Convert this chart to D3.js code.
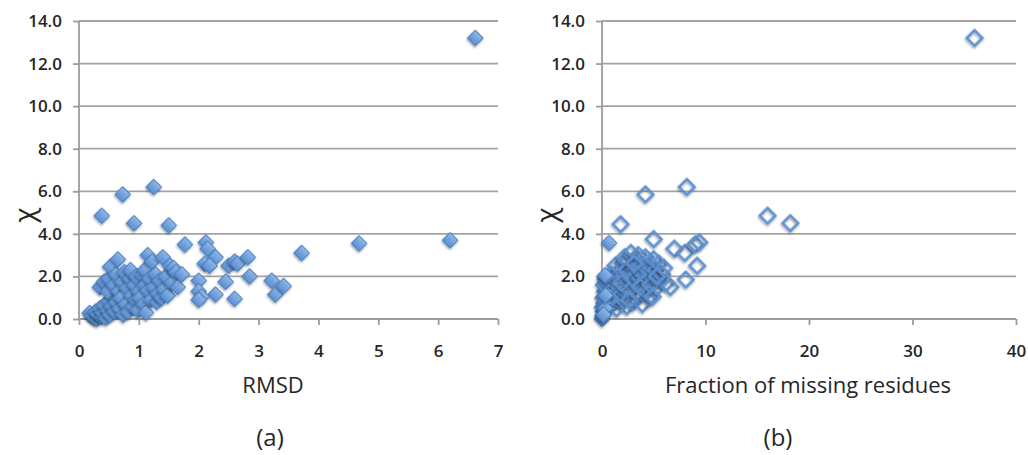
<!DOCTYPE html>
<html>
<head>
<meta charset="utf-8">
<script src="https://cdn.jsdelivr.net/npm/d3@7"></script>
<style>
  body { margin: 0; background: #fff; }
  svg text { font-family: "Open Sans", "Liberation Sans", sans-serif; fill: #262626; }
</style>
</head>
<body>
<div id="chart"></div>
<script>
// chi vs RMSD (panel a)
var rmsdPoints = [
  [0.18,0.28],[0.22,0.15],[0.26,0.05],[0.30,0.0],[0.28,0.35],[0.32,0.2],[0.35,0.5],[0.38,0.1],
  [0.40,0.3],[0.42,0.65],[0.45,0.05],[0.48,0.4],[0.50,0.85],[0.52,0.2],[0.55,0.6],[0.58,1.1],
  [0.60,0.35],[0.62,0.8],[0.35,1.5],[0.42,1.75],[0.48,1.3],[0.50,1.9],[0.52,2.45],[0.58,1.6],
  [0.62,2.1],[0.65,2.8],[0.66,1.3],[0.68,0.5],[0.70,1.0],[0.72,1.75],[0.74,0.2],[0.76,2.2],
  [0.78,0.7],[0.80,1.45],[0.82,0.35],[0.85,1.9],[0.86,2.3],[0.88,1.1],[0.90,0.6],[0.92,1.6],
  [0.95,0.9],[0.96,2.0],[0.98,0.4],[1.00,1.3],[1.02,1.0],[1.05,2.1],[1.08,0.7],[1.10,1.6],
  [1.10,2.3],[1.12,0.3],[1.15,3.0],[1.15,1.35],[1.18,1.9],[1.20,0.9],[1.22,2.7],[1.25,1.5],
  [1.28,2.1],[1.30,0.8],[1.32,1.2],[1.35,1.8],[1.38,1.0],[1.40,2.9],[1.42,1.4],[1.45,2.0],
  [1.48,1.1],[1.52,2.5],[1.55,1.7],[1.58,2.4],[1.62,2.2],[1.65,1.5],[1.72,2.1],
  [6.62,13.2],[6.20,3.7],[4.68,3.55],[3.72,3.1],[1.25,6.2],[0.73,5.85],[0.38,4.85],[0.92,4.5],
  [1.50,4.4],[1.77,3.5],[2.12,3.6],[2.15,3.3],[2.28,2.9],[2.10,2.6],[2.18,2.5],[2.50,2.5],
  [2.60,2.7],[2.65,2.6],[2.82,2.9],[2.85,2.0],[2.45,1.75],[2.60,0.95],[2.28,1.15],[2.00,1.8],
  [2.00,1.3],[2.05,1.05],[2.00,0.9],[3.22,1.8],[3.28,1.15],[3.42,1.55]
];

// chi vs fraction of missing residues (panel b)
var missingHollow = [
  [0.8,0.6],[1.0,1.2],[1.2,0.9],[1.5,1.6],[1.6,2.2],[1.8,0.8],[2.0,1.4],[2.0,2.6],[2.2,1.9],
  [2.4,0.6],[2.5,2.7],[2.6,1.2],[2.8,3.1],[2.8,2.0],[3.0,1.6],[3.0,0.8],[3.2,2.4],[3.3,2.8],
  [3.5,3.0],[3.5,1.1],[3.6,1.9],[3.8,2.5],[3.9,0.7],[4.0,1.5],[4.1,2.2],[4.2,2.9],[4.4,1.8],
  [4.5,1.0],[4.6,2.5],[4.8,2.0],[5.0,2.8],[5.1,1.4],[5.2,2.3],[5.4,1.8],[5.5,2.6],[5.8,2.1],
  [6.0,2.4],[6.2,1.7],[1.3,2.5],[2.2,2.9],[3.4,2.1],[4.3,1.3],[1.1,1.8],[0.9,2.1],[1.7,1.1],
  [2.9,1.9],[3.7,1.5],[4.7,1.6],[2.4,2.3],[1.9,1.7],[0.7,1.0],[1.4,0.5],[2.6,0.9],[3.1,2.6],
  [5.3,2.0],
  [36.0,13.2],[8.2,6.2],[4.2,5.85],[16.0,4.85],[18.2,4.5],[1.8,4.45],[5.0,3.75],[7.0,3.3],
  [8.0,3.1],[9.0,3.5],[9.4,3.6],[9.2,2.5],[8.1,1.85],[6.6,1.5],[4.9,1.05]
];
var missingFilled = [
  [0.0,0.0],[0.05,0.15],[0.1,0.35],[0.0,0.55],[0.15,0.75],[0.05,1.0],[0.2,1.3],[0.1,1.6],
  [0.25,1.85],[0.45,2.0],[0.3,0.5],[0.35,1.1],[0.68,3.57],[0.15,0.2],[0.3,2.05]
];

var yTicks = [0, 2, 4, 6, 8, 10, 12, 14];
var rmsdTicks = [0, 1, 2, 3, 4, 5, 6, 7];
var missingTicks = [0, 10, 20, 30, 40];

var width = 1028, height = 455;

var svg = d3.select("#chart")
  .append("svg")
  .attr("width", width)
  .attr("height", height);

var defs = svg.append("defs");
var grad = defs.append("linearGradient")
  .attr("id", "markerFill")
  .attr("x1", 0).attr("y1", 0).attr("x2", 0).attr("y2", 1);
grad.append("stop").attr("offset", "0%").attr("stop-color", "#8fb7e6");
grad.append("stop").attr("offset", "100%").attr("stop-color", "#5a8fd2");

var shadow = defs.append("filter")
  .attr("id", "shadow")
  .attr("x", "-50%").attr("y", "-50%").attr("width", "200%").attr("height", "200%");
shadow.append("feDropShadow")
  .attr("dx", 0.6).attr("dy", 1.4)
  .attr("stdDeviation", 0.9)
  .attr("flood-color", "#000")
  .attr("flood-opacity", 0.4);

var diamond = d3.symbol().type(d3.symbolSquare).size(122);

function drawPanel(opts) {
  var g = svg.append("g");

  var x = d3.scaleLinear().domain(opts.xDomain).range([opts.left, opts.right]);
  var y = d3.scaleLinear().domain([0, 14]).range([319, 21]);

  // gridlines
  g.append("g")
    .selectAll("line")
    .data(yTicks.slice(1))
    .enter().append("line")
    .attr("x1", opts.left).attr("x2", opts.right)
    .attr("y1", function(d) { return y(d) }).attr("y2", function(d) { return y(d) })
    .attr("stroke", "#a3a3a3")
    .attr("stroke-width", 1.8);

  var yAxis = d3.axisLeft(y)
    .tickValues(yTicks)
    .tickFormat(d3.format(".1f"))
    .tickSize(6)
    .tickPadding(11);
  var ya = g.append("g")
    .attr("transform", "translate(" + opts.left + ",0)")
    .call(yAxis);

  var xAxis = d3.axisBottom(x)
    .tickValues(opts.xTicks)
    .tickFormat(d3.format("d"))
    .tickSize(6)
    .tickPadding(20);
  var xa = g.append("g")
    .attr("transform", "translate(0," + y(0) + ")")
    .call(xAxis);

  [ya, xa].forEach(function(a) {
    a.select(".domain").attr("stroke", "#9c9c9c").attr("stroke-width", 1.8);
    a.selectAll(".tick line").attr("stroke", "#9c9c9c").attr("stroke-width", 1.8);
    a.selectAll(".tick text")
      .attr("font-size", "17px")
      .attr("font-weight", 600)
      .attr("font-family", "'Open Sans', sans-serif")
      .attr("fill", "#333");
  });
  ya.select(".domain").attr("d", "M0," + y(14) + "V" + y(0));
  xa.select(".domain").attr("d", "M" + opts.left + ",0H" + opts.right);

  // markers
  opts.series.forEach(function(s) {
    g.append("g")
      .selectAll("path")
      .data(s.data)
      .enter().append("path")
      .attr("d", diamond)
      .attr("transform", function(d) {
        return "translate(" + x(d[0]) + "," + y(d[1]) + ") rotate(45)";
      })
      .attr("fill", s.hollow ? "none" : "url(#markerFill)")
      .attr("stroke", s.hollow ? "#5b90d2" : "#4a7ec2")
      .attr("stroke-width", s.hollow ? 2.5 : 1)
      .attr("filter", "url(#shadow)");
  });

  // axis titles
  g.append("text")
    .attr("x", opts.titleX)
    .attr("y", 393)
    .attr("text-anchor", "middle")
    .attr("font-size", "22px")
    .text(opts.title);

  // rotated chi, baseline on the right side of the glyph
  g.append("text")
    .attr("transform", "translate(" + opts.chiX + ",215) rotate(-90)")
    .attr("text-anchor", "middle")
    .attr("font-family", "'Liberation Sans', sans-serif")
    .attr("font-size", "28px")
    .text("χ");

  g.append("text")
    .attr("x", opts.labelX)
    .attr("y", 446)
    .attr("text-anchor", "middle")
    .attr("font-size", "24px")
    .text(opts.label);
}

drawPanel({
  left: 79, right: 498,
  xDomain: [0, 7], xTicks: rmsdTicks,
  series: [{ data: rmsdPoints, hollow: false }],
  title: "RMSD", titleX: 273,
  chiX: 34, label: "(a)", labelX: 270
});

drawPanel({
  left: 602, right: 1016,
  xDomain: [0, 40], xTicks: missingTicks,
  series: [{ data: missingHollow, hollow: true }, { data: missingFilled, hollow: false }],
  title: "Fraction of missing residues", titleX: 808,
  chiX: 556, label: "(b)", labelX: 778
});
</script>
</body>
</html>
